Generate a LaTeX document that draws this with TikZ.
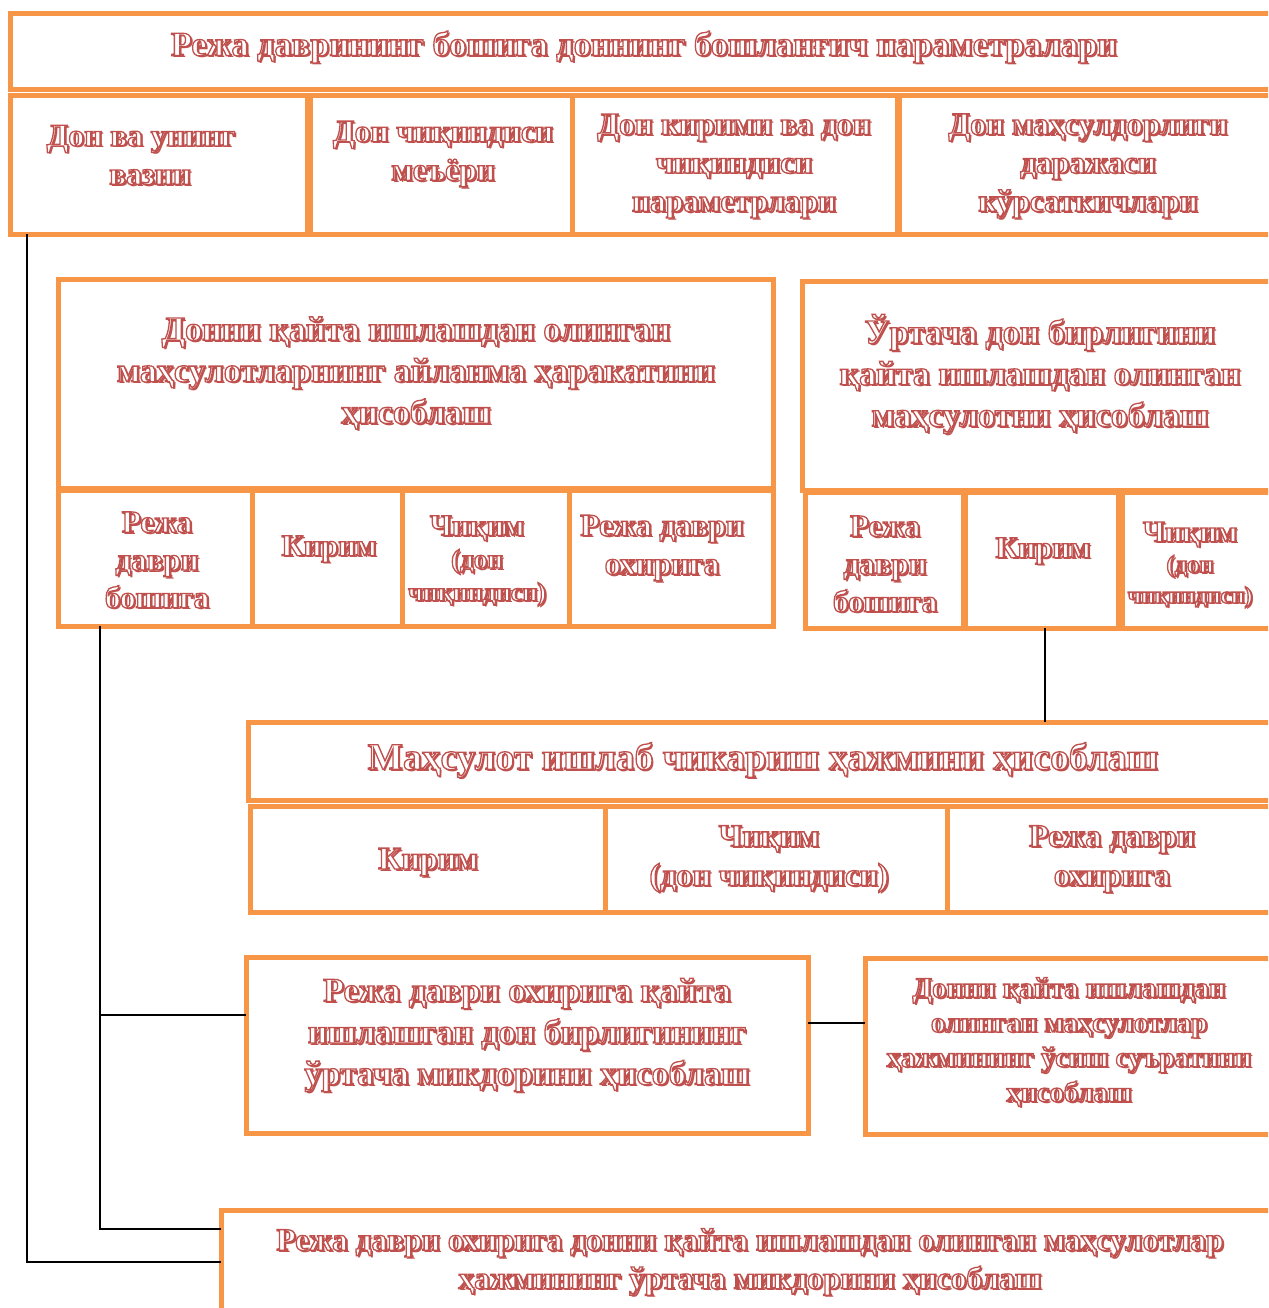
\documentclass[tikz,border=0pt]{standalone}
\usepackage{fontspec}
\setmainfont{Liberation Serif}
\usetikzlibrary{calc}
\definecolor{boxorange}{HTML}{F79646}
\definecolor{txtred}{HTML}{C0504D}
% outlined glyphs: white fill, red stroke
\newcommand\olon{\special{pdf:literal direct 2 Tr 1.3 w 0.753 0.314 0.302 RG}}
\newcommand\oloff{\special{pdf:literal direct 0 Tr 0.4 w}}
% smaller type inside a line
\newcommand\sz[1]{\fontsize{#1}{1.22\dimexpr#1pt\relax}\selectfont}
\tikzset{
  box/.style={draw=boxorange,line width=5pt,fill=white,inner sep=0pt,outer sep=0pt},
  conn/.style={draw=black,line width=1.4pt},
  lbl/.style={inner sep=0pt,align=center,font=\bfseries},
}
% shadowed, outlined label: name, position, size, text
\newcommand\shtext[4]{%
  \node[lbl,font=\bfseries\sz{#3},text=txtred,xshift=2pt,yshift=-2pt] at #2 {#4};
  \node[lbl,font=\bfseries\sz{#3},text=white] (#1) at #2 {\olon#4\oloff};
}
% box from corner (x1,y1) to (x2,y2)
\newcommand\bx[5]{%
  \node[box,anchor=north west,minimum width=#4pt-#2pt,minimum height=#5pt-#3pt] (#1) at (#2,#3) {};
}
\begin{document}
\begin{tikzpicture}[x=1pt,y=-1pt]
\useasboundingbox (0,0) rectangle (1268,1308);
\clip (0,0) rectangle (1268,1308);
% top band
\bx{top}{10}{14}{1290}{90}
\bx{p1}{10}{96}{307}{234}
\bx{p2}{310}{96}{573}{234}
\bx{p3}{572}{96}{897}{234}
\bx{p4}{899}{96}{1290}{234}
% turnover block
\bx{turn}{58}{279}{773}{488}
\bx{ta}{58}{490}{252}{626}
\bx{tb}{252}{490}{402}{626}
\bx{tc}{402}{490}{569}{626}
\bx{td}{569}{490}{773}{626}
% average unit block
\bx{avg}{802}{281}{1290}{490}
\bx{aa}{805}{492}{963}{628}
\bx{ab}{965}{492}{1118}{628}
\bx{ac}{1122}{492}{1290}{628}
% output volume block
\bx{vol}{248}{722}{1290}{800}
\bx{va}{250}{806}{605}{912}
\bx{vb}{605}{806}{947}{912}
\bx{vc}{947}{806}{1290}{912}
% lower blocks
\bx{endavg}{246}{957}{808}{1133}
\bx{growth}{865}{958}{1290}{1134}
\bx{final}{221}{1210}{1290}{1330}

% connectors
\draw[conn] ($(p1.south west)+(17,0)$) |- ($(final.north west)+(0,52)$);
\draw[conn] ($(ta.south west)+(42,0)$) |- ($(final.north west)+(0,19)$);
\draw[conn] ($(ta.south west)+(42,0)$) |- ($(endavg.north west)+(0,58)$);
\draw[conn] ($(ab.south west)+(80,0)$) -- ($(vol.north west)+(797,0)$);
\draw[conn] ($(endavg.north east)+(0,66)$) -- ($(growth.north west)+(0,65)$);

% labels
\shtext{ttop}{(644,47)}{34.3}{Режа даврининг бошига доннинг бошланғич параметралари}
\shtext{tp1}{(150,155)}{31.5}{Дон ва унинг\hspace*{18pt}\\вазни}
\shtext{tp2}{(443,154)}{31.5}{Дон чиқиндиси\\меъёри}
\shtext{tp3}{(734,166)}{31.5}{Дон кирими ва дон\\чиқиндиси\\параметрлари}
\shtext{tp4}{(1088,166)}{31.5}{Дон маҳсулдорлиги\\даражаси\\кўрсаткичлари}
\shtext{tturn}{(416,373)}{34}{Донни қайта ишлашдан олинган\\маҳсулотларнинг айланма ҳаракатини\\ҳисоблаш}
\shtext{tavg}{(1040,374)}{34}{Ўртача дон бирлигини\\қайта ишлашдан олинган\\маҳсулотни ҳисоблаш}
\shtext{tta}{(157,560)}{31}{Режа\\даври\\бошига}
\shtext{ttb}{(329,549)}{30.5}{Кирим}
\shtext{ttc}{(477,561)}{30}{Чиқим\\[-4pt]{\sz{27}(дон}\\[-4pt]{\sz{26}чиқиндиси)}}
\shtext{ttd}{(662,548)}{31.5}{Режа даври\\охирига}
\shtext{taa}{(885,564)}{31}{Режа\\даври\\бошига}
\shtext{tab}{(1043,551)}{30.5}{Кирим}
\shtext{tac}{(1190,565)}{30}{Чиқим\\[-6pt]{\sz{24.5}(дон}\\[-6pt]{\sz{23.5}чиқиндиси)}}
\shtext{tvol}{(763,760)}{37.5}{Маҳсулот ишлаб чикариш ҳажмини ҳисоблаш}
\shtext{tva}{(428,862)}{32}{Кирим}
\shtext{tvb}{(769,859)}{32}{Чиқим\\(дон чиқиндиси)}
\shtext{tvc}{(1112,859)}{32}{Режа даври\\охирига}
\shtext{tend}{(527,1035)}{34}{Режа даври охирига қайта\\ишлашган дон бирлигининг\\ўртача микдорини ҳисоблаш}
\shtext{tgrow}{(1069,1042)}{28.5}{Донни қайта ишлашдан\\олинган маҳсулотлар\\ҳажмининг ўсиш суъратини\\ҳисоблаш}
\shtext{tfin}{(750,1262)}{31.5}{Режа даври охирига донни қайта ишлашдан олинган маҳсулотлар\\ҳажмининг ўртача микдорини ҳисоблаш}
\end{tikzpicture}
\end{document}
